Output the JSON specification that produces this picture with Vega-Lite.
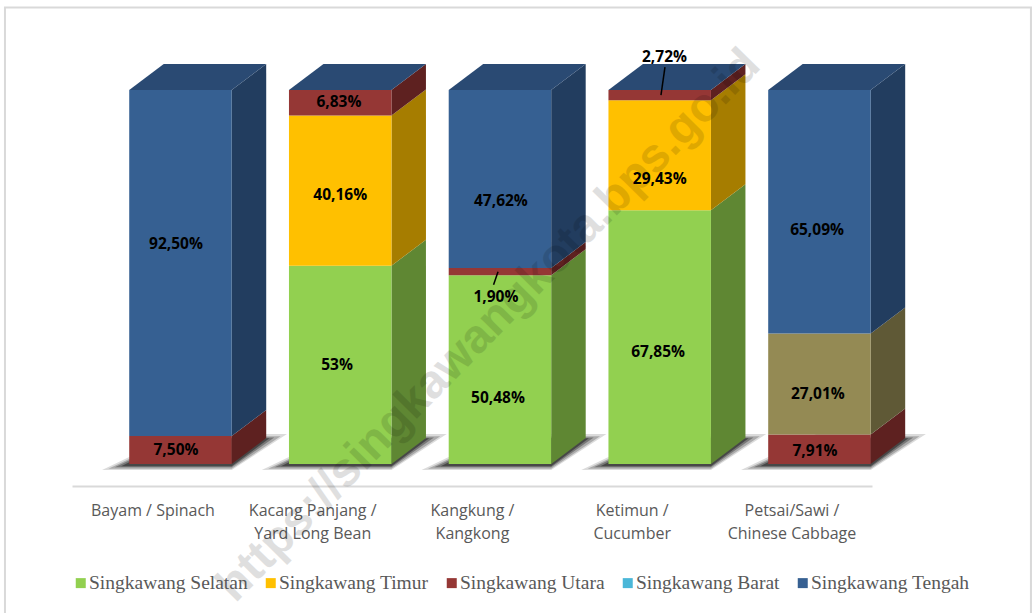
{
"$schema":"https://vega.github.io/schema/vega-lite/v6.json",
"width":800,"height":456,
"autosize":{"type":"none"},
"padding":{"left":72,"top":30,"right":162,"bottom":127},
"background":"white",
"config":{"view":{"stroke":null}},
"data":{"values":[
{"komoditas":"Bayam","wilayah":"Singkawang Utara","nilai":7.5,"label":"7,50%"},
{"komoditas":"Bayam","wilayah":"Singkawang Tengah","nilai":92.5,"label":"92,50%"},
{"komoditas":"Kacang Panjang","wilayah":"Singkawang Selatan","nilai":53.01,"label":"53%"},
{"komoditas":"Kacang Panjang","wilayah":"Singkawang Timur","nilai":40.16,"label":"40,16%"},
{"komoditas":"Kacang Panjang","wilayah":"Singkawang Utara","nilai":6.83,"label":"6,83%"},
{"komoditas":"Kangkung","wilayah":"Singkawang Selatan","nilai":50.48,"label":"50,48%"},
{"komoditas":"Kangkung","wilayah":"Singkawang Utara","nilai":1.9,"label":"1,90%"},
{"komoditas":"Kangkung","wilayah":"Singkawang Tengah","nilai":47.62,"label":"47,62%"},
{"komoditas":"Ketimun","wilayah":"Singkawang Selatan","nilai":67.85,"label":"67,85%"},
{"komoditas":"Ketimun","wilayah":"Singkawang Timur","nilai":29.43,"label":"29,43%"},
{"komoditas":"Ketimun","wilayah":"Singkawang Utara","nilai":2.72,"label":"2,72%"},
{"komoditas":"Petsai","wilayah":"Singkawang Utara","nilai":7.91,"label":"7,91%"},
{"komoditas":"Petsai","wilayah":"Singkawang Barat","nilai":27.01,"label":"27,01%"},
{"komoditas":"Petsai","wilayah":"Singkawang Tengah","nilai":65.09,"label":"65,09%"}
]},
"transform":[
{"calculate":"indexof(['Bayam','Kacang Panjang','Kangkung','Ketimun','Petsai'],datum.komoditas)","as":"idx"},
{"calculate":"indexof(['Singkawang Selatan','Singkawang Timur','Singkawang Utara','Singkawang Barat','Singkawang Tengah'],datum.wilayah)","as":"urut"},
{"stack":"nilai","groupby":["idx"],"sort":[{"field":"urut","order":"ascending"}],"as":["y0","y1"]},
{"calculate":"(datum.y0+datum.y1)/2","as":"mid"},
{"calculate":"[0,1]","as":"t"},
{"flatten":["t"]}
],
"encoding":{
"x":{"field":"xa","type":"quantitative","stack":null,"scale":{"domain":[-0.679,4.329],"nice":false,"zero":false},
"axis":{"title":null,"grid":false,"ticks":false,"values":[0,1,2,3,4],"domainColor":"#d9d9d9","domainWidth":2,"labelColor":"#595959","labelFont":"Open Sans","labelFontSize":16,"labelLineHeight":23,"labelPadding":16,"labelOffset":-28,"labelOverlap":false,"labelFlush":false,"labelBound":false,
"labelExpr":"datum.value===0?['Bayam / Spinach']:datum.value===1?['Kacang Panjang /','Yard Long Bean']:datum.value===2?['Kangkung /','Kangkong']:datum.value===3?['Ketimun /','Cucumber']:['Petsai/Sawi /','Chinese Cabbage']"}},
"y":{"field":"ya","type":"quantitative","stack":null,"scale":{"domain":[-5.882,116.04],"nice":false,"zero":false},"axis":null}
},
"layer":[
{"transform":[{"filter":"datum.y1>99.9"},{"calculate":"datum.idx-0.3208-0.17*(1-datum.t)+0.3*datum.t","as":"xa"},{"calculate":"datum.idx+0.3208+(0.216+0.13)*datum.t","as":"xb"},{"calculate":"-1.6+9.6*datum.t","as":"ya"}],
"mark":{"type":"area","orient":"horizontal","fill":"#000000","fillOpacity":0.14},
"encoding":{"x2":{"field":"xb"},"detail":{"field":"idx"}}},
{"transform":[{"filter":"datum.y1>99.9"},{"calculate":"datum.idx-0.3208-0.13*(1-datum.t)+0.3*datum.t","as":"xa"},{"calculate":"datum.idx+0.3208+(0.216+0.09)*datum.t","as":"xb"},{"calculate":"-1.3+8.7*datum.t","as":"ya"}],
"mark":{"type":"area","orient":"horizontal","fill":"#000000","fillOpacity":0.22},
"encoding":{"x2":{"field":"xb"},"detail":{"field":"idx"}}},
{"transform":[{"filter":"datum.y1>99.9"},{"calculate":"datum.idx-0.3208-0.09*(1-datum.t)+0.3*datum.t","as":"xa"},{"calculate":"datum.idx+0.3208+(0.216+0.05)*datum.t","as":"xb"},{"calculate":"-0.9+8*datum.t","as":"ya"}],
"mark":{"type":"area","orient":"horizontal","fill":"#000000","fillOpacity":0.3},
"encoding":{"x2":{"field":"xb"},"detail":{"field":"idx"}}},
{"transform":[{"filter":"datum.y1>99.9"},{"calculate":"datum.idx-0.3208-0.05*(1-datum.t)+0.3*datum.t","as":"xa"},{"calculate":"datum.idx+0.3208+(0.216+0.02)*datum.t","as":"xb"},{"calculate":"-0.6+7.5*datum.t","as":"ya"}],
"mark":{"type":"area","orient":"horizontal","fill":"#000000","fillOpacity":0.4},
"encoding":{"x2":{"field":"xb"},"detail":{"field":"idx"}}},
{"transform":[{"calculate":"datum.idx+0.3208+0.216*datum.t","as":"xa"},{"calculate":"datum.y0+6.95*datum.t","as":"ya"},{"calculate":"datum.y1+6.95*datum.t","as":"yb"}],
"mark":{"type":"area"},
"encoding":{"y2":{"field":"yb"},"detail":{"field":"idx"},
"fill":{"field":"wilayah","type":"nominal","legend":null,"scale":{"domain":["Singkawang Selatan","Singkawang Timur","Singkawang Utara","Singkawang Barat","Singkawang Tengah"],"range":["#5F8733","#A67D00","#5E2120","#5F5936","#223D5F"]}}}},
{"transform":[{"filter":"datum.y1>99.9"},{"calculate":"datum.idx-0.3208+0.216*datum.t","as":"xa"},{"calculate":"datum.idx+0.3208+0.216*datum.t","as":"xb"},{"calculate":"100+6.95*datum.t","as":"ya"}],
"mark":{"type":"area","orient":"horizontal","fill":"#2A4A73"},
"encoding":{"x2":{"field":"xb"},"detail":{"field":"idx"}}},
{"transform":[{"filter":"datum.t===0"},{"calculate":"datum.idx-0.3208","as":"xa"},{"calculate":"datum.idx+0.3208","as":"xb"},{"calculate":"datum.y0","as":"ya"},{"calculate":"datum.y1","as":"yb"}],
"mark":{"type":"rect"},
"encoding":{"x2":{"field":"xb"},"y2":{"field":"yb"},
"fill":{"condition":{"test":"datum.wilayah==='Singkawang Barat'","value":"#948A54"},"field":"wilayah","type":"nominal","scale":{"domain":["Singkawang Selatan","Singkawang Timur","Singkawang Utara","Singkawang Barat","Singkawang Tengah"],"range":["#92D050","#FFC000","#953735","#4BB7D8","#366092"]},
"legend":{"title":null,"orient":"none","legendX":-1,"legendY":543,"direction":"horizontal","columns":5,"symbolType":"square","symbolSize":100,"symbolStrokeWidth":0,"labelFont":"Liberation Serif","labelFontSize":19.5,"labelColor":"#595959","columnPadding":13,"labelOffset":-1.5,"labelLimit":300}}}},
{"transform":[{"filter":"datum.t===0 && datum.nilai<3"},{"calculate":"datum.mid>75?datum.idx+0.008:datum.idx-0.012","as":"xa"},{"calculate":"datum.mid>75?datum.idx+0.033:datum.idx-0.04","as":"xb"},{"calculate":"datum.mid","as":"ya"},{"calculate":"datum.mid>75?106.1:47.9","as":"yb"}],
"mark":{"type":"rule","color":"#000000","strokeWidth":1.5},
"encoding":{"x2":{"field":"xb"},"y2":{"field":"yb"}}},
{"transform":[{"filter":"datum.t===0"},
{"calculate":"datum.idx+({'92,50%':-0.028,'7,50%':-0.028,'53%':-0.02,'40,16%':0,'6,83%':-0.008,'50,48%':-0.0125,'1,90%':-0.025,'47,62%':0.006,'67,85%':-0.01,'29,43%':0,'2,72%':0.03,'7,91%':-0.028,'27,01%':-0.01,'65,09%':-0.015})[datum.label]","as":"xa"},
{"calculate":"({'92,50%':59.1,'7,50%':4,'53%':26.7,'40,16%':72.2,'6,83%':97.1,'50,48%':17.9,'1,90%':44.9,'47,62%':70.6,'67,85%':30.2,'29,43%':76.5,'2,72%':109.1,'7,91%':3.7,'27,01%':19,'65,09%':62.8})[datum.label]","as":"ya"}],
"mark":{"type":"text","font":"Open Sans","fontWeight":"bold","fontSize":15.5,"color":"#000000","baseline":"middle","dy":1},
"encoding":{"text":{"field":"label"}}},
{"data":{"values":[{"teks":"https://singkawangkota.bps.go.id","xa":1.93,"ya":37}]},"transform":[],
"mark":{"type":"text","font":"Liberation Sans","fontWeight":"bold","fontSize":47.5,"angle":-45.5,"color":"#000000","opacity":0.12,"baseline":"middle","align":"center"},
"encoding":{"text":{"field":"teks"}}},
{"data":{"values":[{"xa":-1.0986,"xb":5.324,"ya":122.06,"yb":-47}]},"transform":[],
"mark":{"type":"rect","fill":null,"stroke":"#d9d9d9","strokeWidth":2,"clip":false},
"encoding":{"x2":{"field":"xb"},"y2":{"field":"yb"}}}
],
"resolve":{"scale":{"fill":"independent"}}
}
